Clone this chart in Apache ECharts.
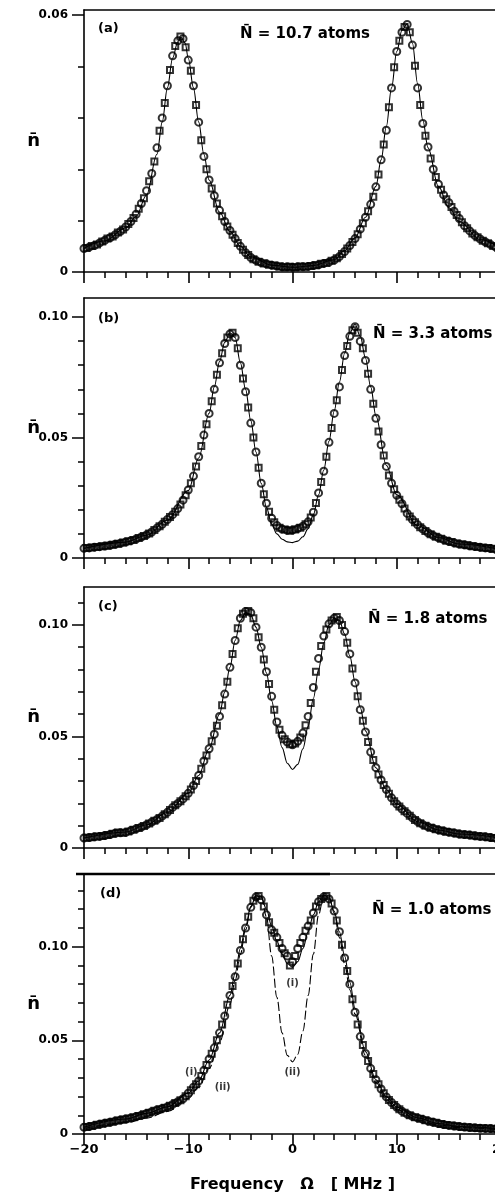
<!DOCTYPE html>
<html><head><meta charset="utf-8">
<script src="https://cdn.jsdelivr.net/npm/echarts@6/dist/echarts.min.js"></script>
<style>html,body{margin:0;padding:0;background:#fff}#c{width:495px;height:1193px}</style>
</head><body><div id="c"></div>
<script>
// ---------- data ----------
const freq = [-20,-19.5,-19,-18.5,-18,-17.5,-17,-16.5,-16,-15.5,-15,-14.5,-14,-13.5,-13,-12.5,-12,-11.5,-11,-10.5,
  -10,-9.5,-9,-8.5,-8,-7.5,-7,-6.5,-6,-5.5,-5,-4.5,-4,-3.5,-3,-2.5,-2,-1.5,-1,-0.5,
  0,0.5,1,1.5,2,2.5,3,3.5,4,4.5,5,5.5,6,6.5,7,7.5,8,8.5,9,9.5,
  10,10.5,11,11.5,12,12.5,13,13.5,14,14.5,15,15.5,16,16.5,17,17.5,18,18.5,19,19.5];
const freq2 = [-19.75,-19.25,-18.75,-18.25,-17.75,-17.25,-16.75,-16.25,-15.75,-15.25,-14.75,-14.25,-13.75,-13.25,-12.75,-12.25,-11.75,-11.25,-10.75,-10.25,
  -9.75,-9.25,-8.75,-8.25,-7.75,-7.25,-6.75,-6.25,-5.75,-5.25,-4.75,-4.25,-3.75,-3.25,-2.75,-2.25,-1.75,-1.25,-0.75,-0.25,
  0.25,0.75,1.25,1.75,2.25,2.75,3.25,3.75,4.25,4.75,5.25,5.75,6.25,6.75,7.25,7.75,8.25,8.75,9.25,9.75,
  10.25,10.75,11.25,11.75,12.25,12.75,13.25,13.75,14.25,14.75,15.25,15.75,16.25,16.75,17.25,17.75,18.25,18.75,19.25,19.75];

const nA = [0.0055,0.0058,0.0062,0.0068,0.0074,0.0080,0.0087,0.0095,0.0105,0.0118,0.0135,0.0160,0.0190,0.0230,0.0290,0.0360,0.0435,0.0505,0.0540,0.0545,
  0.0495,0.0435,0.0350,0.0270,0.0215,0.0178,0.0144,0.0118,0.0097,0.0078,0.0060,0.0045,0.0034,0.0027,0.0022,0.0019,0.0016,0.0014,0.0012,0.0012,
  0.0011,0.0012,0.0012,0.0013,0.0015,0.0017,0.0020,0.0023,0.0028,0.0036,0.0048,0.0062,0.0078,0.0100,0.0128,0.0158,0.0199,0.0262,0.0331,0.0430,
  0.0515,0.0560,0.0578,0.0530,0.0430,0.0347,0.0292,0.0240,0.0205,0.0180,0.0162,0.0142,0.0125,0.0108,0.0096,0.0085,0.0077,0.0070,0.0064,0.0058];
const nA2 = [0.0056,0.0061,0.0064,0.0071,0.0078,0.0083,0.0092,0.0099,0.0112,0.0126,0.0148,0.0172,0.0212,0.0258,0.0330,0.0395,0.0472,0.0528,0.0550,0.0525,
  0.0470,0.0390,0.0308,0.0240,0.0195,0.0160,0.0130,0.0106,0.0087,0.0068,0.0052,0.0040,0.0030,0.0024,0.0020,0.0017,0.0015,0.0013,0.0011,0.0012,
  0.0011,0.0013,0.0012,0.0014,0.0016,0.0019,0.0021,0.0026,0.0032,0.0042,0.0055,0.0070,0.0088,0.0114,0.0142,0.0176,0.0228,0.0298,0.0385,0.0478,
  0.0540,0.0572,0.0560,0.0482,0.0390,0.0318,0.0265,0.0222,0.0192,0.0170,0.0152,0.0133,0.0116,0.0102,0.0090,0.0081,0.0073,0.0067,0.0061,0.0056];

const nB = [0.0040,0.0042,0.0045,0.0047,0.0050,0.0053,0.0057,0.0061,0.0066,0.0072,0.0079,0.0087,0.0096,0.0108,0.0124,0.0140,0.0160,0.0180,0.0205,0.0240,
  0.0282,0.0340,0.0420,0.0510,0.0600,0.0700,0.0810,0.0890,0.0930,0.0915,0.0800,0.0690,0.0560,0.0440,0.0310,0.0227,0.0165,0.0135,0.0120,0.0115,
  0.0116,0.0122,0.0132,0.0150,0.0190,0.0270,0.0360,0.0480,0.0600,0.0710,0.0840,0.0920,0.0960,0.0900,0.0820,0.0700,0.0580,0.0470,0.0380,0.0310,
  0.0260,0.0225,0.0185,0.0160,0.0138,0.0120,0.0105,0.0093,0.0084,0.0076,0.0069,0.0063,0.0058,0.0055,0.0051,0.0048,0.0045,0.0042,0.0039,0.0036];
const nB2 = [0.0041,0.0044,0.0046,0.0049,0.0051,0.0055,0.0059,0.0064,0.0069,0.0075,0.0083,0.0091,0.0102,0.0116,0.0132,0.0150,0.0170,0.0192,0.0222,0.0260,
  0.0310,0.0380,0.0465,0.0555,0.0650,0.0760,0.0850,0.0915,0.0935,0.0870,0.0745,0.0625,0.0500,0.0375,0.0265,0.0192,0.0148,0.0126,0.0118,0.0113,
  0.0118,0.0126,0.0140,0.0168,0.0228,0.0315,0.0420,0.0540,0.0655,0.0780,0.0880,0.0945,0.0935,0.0870,0.0765,0.0640,0.0525,0.0425,0.0342,0.0285,
  0.0242,0.0205,0.0172,0.0148,0.0128,0.0112,0.0099,0.0088,0.0080,0.0072,0.0066,0.0060,0.0056,0.0053,0.0049,0.0046,0.0043,0.0041,0.0038,0.0035];

const nC = [0.0045,0.0047,0.0050,0.0052,0.0056,0.0060,0.0066,0.0068,0.0070,0.0078,0.0086,0.0094,0.0104,0.0116,0.0128,0.0143,0.0160,0.0182,0.0200,0.0220,
  0.0245,0.0280,0.0325,0.0390,0.0445,0.0510,0.0590,0.0690,0.0810,0.0930,0.1030,0.1060,0.1055,0.0990,0.0900,0.0790,0.0680,0.0565,0.0505,0.0475,
  0.0463,0.0478,0.0515,0.0590,0.0720,0.0850,0.0950,0.1005,0.1030,0.1020,0.0970,0.0870,0.0740,0.0620,0.0520,0.0430,0.0360,0.0305,0.0262,0.0225,
  0.0197,0.0175,0.0155,0.0135,0.0118,0.0105,0.0095,0.0088,0.0081,0.0076,0.0071,0.0067,0.0063,0.0060,0.0058,0.0055,0.0052,0.0050,0.0047,0.0044];
const nC2 = [0.0046,0.0048,0.0051,0.0054,0.0058,0.0064,0.0069,0.0068,0.0074,0.0082,0.0090,0.0099,0.0110,0.0122,0.0135,0.0151,0.0170,0.0192,0.0210,0.0232,
  0.0262,0.0300,0.0355,0.0415,0.0478,0.0548,0.0640,0.0745,0.0870,0.0985,0.1050,0.1062,0.1030,0.0945,0.0845,0.0735,0.0620,0.0530,0.0488,0.0465,
  0.0468,0.0495,0.0550,0.0650,0.0790,0.0905,0.0980,0.1020,0.1035,0.1000,0.0920,0.0805,0.0680,0.0570,0.0475,0.0395,0.0330,0.0282,0.0243,0.0210,
  0.0186,0.0165,0.0145,0.0126,0.0111,0.0100,0.0091,0.0084,0.0078,0.0073,0.0069,0.0065,0.0061,0.0059,0.0056,0.0053,0.0051,0.0048,0.0045,0.0043];

const nD = [0.0036,0.0040,0.0046,0.0052,0.0058,0.0063,0.0069,0.0075,0.0080,0.0086,0.0093,0.0100,0.0110,0.0119,0.0128,0.0136,0.0145,0.0158,0.0172,0.0188,
  0.0218,0.0250,0.0283,0.0340,0.0400,0.0460,0.0540,0.0630,0.0740,0.0840,0.0980,0.1100,0.1210,0.1265,0.1250,0.1170,0.1090,0.1050,0.0990,0.0950,
  0.0920,0.0990,0.1050,0.1110,0.1180,0.1240,0.1265,0.1255,0.1190,0.1080,0.0940,0.0800,0.0650,0.0520,0.0430,0.0350,0.0290,0.0240,0.0198,0.0168,
  0.0143,0.0122,0.0106,0.0094,0.0086,0.0078,0.0070,0.0063,0.0056,0.0051,0.0046,0.0043,0.0040,0.0037,0.0035,0.0033,0.0031,0.0030,0.0029,0.0027];
const nD2 = [0.0038,0.0043,0.0049,0.0055,0.0060,0.0066,0.0072,0.0077,0.0083,0.0090,0.0096,0.0105,0.0114,0.0124,0.0132,0.0140,0.0151,0.0165,0.0180,0.0202,
  0.0234,0.0266,0.0310,0.0368,0.0428,0.0500,0.0585,0.0690,0.0790,0.0910,0.1040,0.1160,0.1245,0.1270,0.1215,0.1130,0.1075,0.1020,0.0965,0.0900,
  0.0950,0.1020,0.1085,0.1140,0.1215,0.1255,0.1270,0.1230,0.1140,0.1010,0.0870,0.0720,0.0585,0.0475,0.0390,0.0320,0.0265,0.0218,0.0182,0.0155,
  0.0132,0.0114,0.0100,0.0090,0.0082,0.0074,0.0066,0.0060,0.0053,0.0048,0.0045,0.0041,0.0038,0.0036,0.0034,0.0032,0.0031,0.0030,0.0028,0.0026];

// theory curves
const fitFreqA = [-20,-18,-16,-15,-14,-13,-12.5,-12,-11.5,-11,-10.7,-10.3,-10,-9.5,-9,-8.5,-8,-7,-6,-5,-4,-2,0,2,4,5,6,7,8,8.5,9,9.5,10,10.5,11,11.5,12,12.5,13,14,15,16,18,20];
const fitA = [0.0055,0.0073,0.0103,0.0130,0.0180,0.0275,0.0350,0.0430,0.0500,0.0538,0.0548,0.0535,0.0500,0.0430,0.0350,0.0275,0.0215,0.0140,0.0095,0.0060,0.0035,0.0016,0.0011,0.0015,0.0029,0.0050,0.0080,0.0128,0.0200,0.0262,0.0340,0.0430,0.0515,0.0565,0.0580,0.0535,0.0440,0.0355,0.0290,0.0200,0.0150,0.0118,0.0076,0.0054];

const fitFreqB = [-20,-16,-14,-12,-10,-9,-8,-7.5,-7,-6.5,-6,-5.5,-5,-4.5,-4,-3.5,-3,-2.5,-2,-1.5,-1,-0.5,0,0.5,1,1.5,2,2.5,3,3.5,4,4.5,5,5.5,6,6.5,7,7.5,8,9,10,12,14,16,20];
const fitB = [0.0040,0.0066,0.0095,0.0158,0.0280,0.0415,0.0600,0.0710,0.0815,0.0895,0.0935,0.0915,0.0810,0.0700,0.0570,0.0440,0.0310,0.0210,0.0140,0.0100,0.0078,0.0067,0.0064,0.0070,0.0088,0.0122,0.0180,0.0262,0.0365,0.0485,0.0610,0.0730,0.0850,0.0935,0.0970,0.0920,0.0830,0.0710,0.0590,0.0385,0.0262,0.0135,0.0085,0.0058,0.0035];

const fitFreqC = [-20,-16,-14,-12,-10,-9,-8,-7,-6.5,-6,-5.5,-5,-4.5,-4,-3.5,-3,-2.5,-2,-1.5,-1,-0.5,0,0.5,1,1.5,2,2.5,3,3.5,4,4.5,5,5.5,6,6.5,7,8,9,10,12,14,16,20];
const fitC = [0.0045,0.0072,0.0104,0.0160,0.0245,0.0325,0.0445,0.0600,0.0700,0.0810,0.0930,0.1020,0.1055,0.1045,0.0990,0.0900,0.0785,0.0660,0.0545,0.0450,0.0380,0.0352,0.0375,0.0445,0.0545,0.0670,0.0800,0.0920,0.1000,0.1030,0.1020,0.0960,0.0860,0.0745,0.0630,0.0525,0.0360,0.0262,0.0197,0.0118,0.0081,0.0063,0.0044];

const fitFreqD = [-20,-16,-14,-12,-10,-9,-8,-7,-6,-5.5,-5,-4.5,-4,-3.5,-3,-2.5,-2,-1.5,-1,-0.5,0,0.5,1,1.5,2,2.5,3,3.5,4,4.5,5,5.5,6,7,8,9,10,12,14,16,20];
const fitDi = [0.0036,0.0080,0.0110,0.0145,0.0218,0.0283,0.0395,0.0540,0.0740,0.0860,0.0990,0.1110,0.1215,0.1270,0.1265,0.1200,0.1110,0.1030,0.0960,0.0910,0.0890,0.0920,0.0990,0.1080,0.1170,0.1240,0.1275,0.1260,0.1190,0.1080,0.0950,0.0810,0.0670,0.0440,0.0290,0.0198,0.0143,0.0086,0.0056,0.0040,0.0027];
const fitDii = [0.0030,0.0060,0.0085,0.0120,0.0190,0.0250,0.0350,0.0490,0.0690,0.0820,0.0960,0.1090,0.1210,0.1275,0.1270,0.1160,0.0950,0.0730,0.0540,0.0420,0.0385,0.0425,0.0550,0.0740,0.0960,0.1170,0.1275,0.1270,0.1180,0.1050,0.0910,0.0770,0.0640,0.0420,0.0275,0.0185,0.0130,0.0075,0.0048,0.0035,0.0022];

// axis ticks / labels
const xTickLabels = [-20,-10,0,10,20];
const yMajor = [[0,0.06],[0,0.05,0.10],[0,0.05,0.10],[0,0.05,0.10]];
const yMinor = [[0.012,0.024,0.036,0.048],
  [0.01,0.02,0.03,0.04,0.06,0.07,0.08,0.09],
  [0.01,0.02,0.03,0.04,0.06,0.07,0.08,0.09,0.11],
  [0.01,0.02,0.03,0.04,0.06,0.07,0.08,0.09,0.11,0.12,0.13]];
const panelTags = ['(a)','(b)','(c)','(d)'];
const atomTexts = ['N\u0304 = 10.7 atoms','N\u0304 = 3.3 atoms','N\u0304 = 1.8 atoms','N\u0304 = 1.0 atoms'];
const curveTags = [['(i)',0,0.0806],['(ii)',0,0.0331],['(i)',-9.7,0.0331],['(ii)',-6.7,0.0251]];

// ---------- layout ----------
const panels = [
  {top:10, height:262, max:0.0612},
  {top:298, height:260, max:0.1079},
  {top:587, height:261, max:0.1170},
  {top:874, height:260, max:0.1388}
];
const tagPos = [[98,30],[98,320],[98,608],[100,895]];
const atomPos = [[240,37],[373,337],[368,622],[372,913]];

const FONT = 'DejaVu Sans';
const dataSets = [nA,nB,nC,nD];
const dataSets2 = [nA2,nB2,nC2,nD2];
const fits = [[fitFreqA,fitA],[fitFreqB,fitB],[fitFreqC,fitC],[fitFreqD,fitDi]];

const grid=[], xAxis=[], yAxis=[], series=[], graphic=[];
panels.forEach((p,i)=>{
  const last = i===3;
  grid.push({left:84, right:-6, top:p.top, height:p.height, containLabel:false, outerBoundsMode:'none'});
  xAxis.push({type:'value', gridIndex:i, min:-20, max:20, interval:10, position:'bottom',
    axisLine:{onZero:false, lineStyle:{color:'#000', width:1.6}},
    axisTick:{show:true, length:11, lineStyle:{color:'#000', width:1.6}},
    minorTick:{show:true, splitNumber:5, length:6, lineStyle:{color:'#000', width:1.5}},
    splitLine:{show:false}, minorSplitLine:{show:false},
    axisLabel:{show:last, margin:9, color:'#000', fontFamily:FONT, fontWeight:'bold', fontSize:13,
      hideOverlap:false, showMaxLabel:true, showMinLabel:true,
      formatter:v=> v<0 ? '\u2212'+Math.abs(v) : String(v)},
    name: last ? 'Frequency   \u03A9   [ MHz ]' : '', nameLocation:'middle', nameGap:43, nameMoveOverlap:false,
    nameTextStyle:{color:'#000', fontFamily:FONT, fontWeight:'bold', fontSize:16}
  });
  xAxis.push({type:'value', gridIndex:i, min:-20, max:20, position:'top',
    axisLine:{onZero:false, lineStyle:{color:'#000', width:1.6}},
    axisTick:{show:false}, axisLabel:{show:false}, splitLine:{show:false}});
  yAxis.push({type:'value', gridIndex:i, min:0, max:p.max, position:'left',
    axisLine:{show:true, onZero:false, lineStyle:{color:'#000', width:1.6}},
    axisTick:{show:true, length:12, customValues:yMajor[i], lineStyle:{color:'#000', width:1.5}},
    axisLabel:{show:true, customValues:yMajor[i], margin:16, color:'#000', fontFamily:FONT, fontWeight:'bold', fontSize:12,
      formatter:v=> v===0 ? '0' : v.toFixed(2)},
    splitLine:{show:false},
    name:'n\u0304', nameLocation:'middle', nameGap:44, nameRotate:0, nameMoveOverlap:false,
    nameTextStyle:{color:'#000', fontFamily:FONT, fontWeight:'bold', fontSize:18}
  });
  yAxis.push({type:'value', gridIndex:i, min:0, max:p.max, position:'left',
    axisLine:{show:false, onZero:false},
    axisTick:{show:true, length:6, customValues:yMinor[i], lineStyle:{color:'#000', width:1.5}},
    axisLabel:{show:false}, splitLine:{show:false}});

  series.push({type:'scatter', xAxisIndex:2*i, yAxisIndex:2*i, silent:true,
    data: freq.map((f,k)=>[f, dataSets[i][k]]),
    symbol:'circle', symbolSize:7,
    itemStyle:{color:'rgba(0,0,0,0)', borderColor:'#000', borderWidth:2}, z:2});
  series.push({type:'scatter', xAxisIndex:2*i, yAxisIndex:2*i, silent:true,
    data: freq2.map((f,k)=>[f, dataSets2[i][k]]),
    symbol:'rect', symbolSize:6,
    itemStyle:{color:'rgba(0,0,0,0)', borderColor:'#000', borderWidth:2}, z:2});
  series.push({type:'line', xAxisIndex:2*i, yAxisIndex:2*i, silent:true, showSymbol:false,
    data: fits[i][0].map((f,k)=>[f, fits[i][1][k]]),
    smooth:0.35, smoothMonotone:'x',
    lineStyle:{color:'#000', width:1.1}, z:3});

  graphic.push({type:'text', left:tagPos[i][0], top:tagPos[i][1]-8,
    style:{text:panelTags[i], fill:'#000', font:'bold 13px "DejaVu Sans"'}});
  graphic.push({type:'text', left:atomPos[i][0], top:atomPos[i][1]-10,
    style:{text:atomTexts[i], fill:'#000', font:'bold 15px "DejaVu Sans"'}});
});
// thicker segment of the top frame of panel (d), as in the original print
graphic.push({type:'line', shape:{x1:76, y1:874, x2:330, y2:874}, style:{stroke:'#000', lineWidth:2.5}});

series.push({type:'line', xAxisIndex:6, yAxisIndex:6, silent:true, showSymbol:false,
  data: fitFreqD.map((f,k)=>[f, fitDii[k]]),
  smooth:0.35, smoothMonotone:'x',
  lineStyle:{color:'#000', width:1.1, type:[9,3]}, z:3});
series.push({type:'scatter', xAxisIndex:6, yAxisIndex:6, silent:true, symbolSize:0,
  data: curveTags.map(t=>({value:[t[1],t[2]], name:t[0]})),
  label:{show:true, position:'inside', formatter:p=>p.name, color:'#000',
    fontFamily:FONT, fontWeight:'bold', fontSize:10}, z:4});

const chart = echarts.init(document.getElementById('c'), null, {renderer:'canvas'});
chart.setOption({animation:false, backgroundColor:'#fff', grid, xAxis, yAxis, series, graphic});
</script>
</body></html>
